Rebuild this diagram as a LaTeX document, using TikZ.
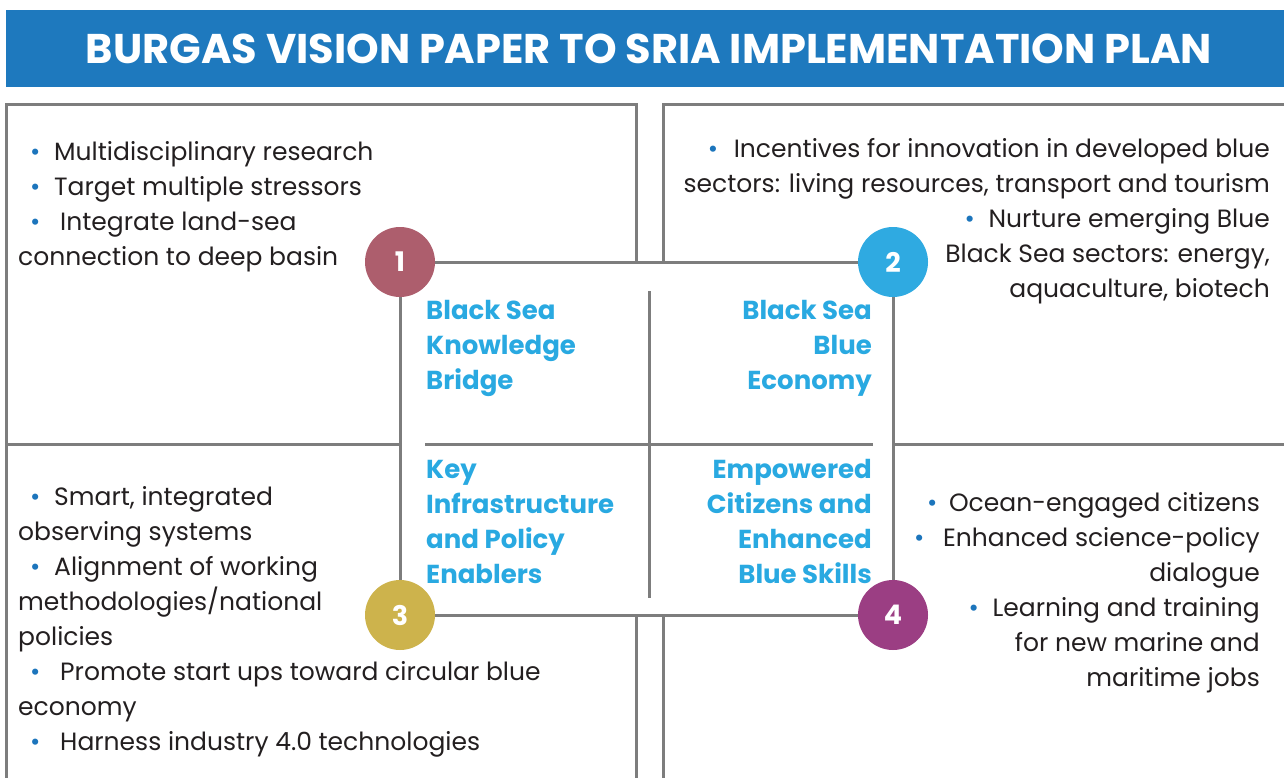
\documentclass[tikz,border=0pt]{standalone}
\usepackage{fontspec}
\setmainfont{Poppins}
\usetikzlibrary{backgrounds}
\definecolor{titleblue}{HTML}{1E79BE}
\definecolor{headblue}{HTML}{29A9E1}
\definecolor{linegrey}{HTML}{7D7D7D}
\definecolor{textdark}{HTML}{231F20}
\definecolor{bulletblue}{HTML}{1C75BC}
\definecolor{rose}{HTML}{AD5E6D}
\definecolor{sky}{HTML}{2FAAE1}
\definecolor{ochre}{HTML}{CDB34C}
\definecolor{plum}{HTML}{9B3E83}
\newcommand\bul{{\color{bulletblue}\textbullet}}
\newcommand\bpt[1]{\hspace*{12pt}\makebox[#1][l]{\bul}}
\newcommand\rpt[1]{\makebox[#1][l]{\bul}}
\tikzset{
    frame/.style={draw=linegrey,line width=3pt},
    badge/.style={circle,fill=#1,minimum size=70pt,inner sep=0pt,text=white,
        font=\bfseries\fontsize{27}{27}\selectfont},
    head/.style={text=headblue,inner sep=0pt,font=\bfseries\fontsize{26}{35}\selectfont},
    body/.style={text=textdark,inner sep=0pt,font=\fontsize{25}{35}\selectfont},
}

\begin{document}
\begin{tikzpicture}[x=1pt,y=-1pt]
    \useasboundingbox (0,0) rectangle (1284,778);
    % title bar
    \fill[titleblue] (6,10) rectangle (1284,87);
    \node[text=white,font=\bfseries\fontsize{41.5}{41.5}\selectfont] (title) at (649,49) {BURGAS VISION PAPER TO SRIA IMPLEMENTATION PLAN};
    % panel frames
    \draw[frame] (6,778) -- (6,105) -- (636,105) -- (636,262);
    \draw[frame] (663,262) -- (663,105) -- (1284,105);
    \draw[frame] (6,444) -- (400,444);
    \draw[frame] (893,444) -- (1284,444);
    \draw[frame] (636,615) -- (636,778);
    \draw[frame] (663,615) -- (663,778);
    \draw[frame] (425,444) -- (873,444);
    \draw[frame] (649,291) -- (649,598);
    % badges
    \def\badges{400/262/rose, 893/262/sky, 400/615/ochre, 893/615/plum}
    \foreach \x/\y/\c [count=\i] in \badges{
        \node[badge=\c] (b\i) at (\x,\y) {\i};
    }
    \begin{scope}[on background layer]
        \draw[frame] (b1) -- (b2) -- (b4) -- (b3) -- (b1);
    \end{scope}
    % headings (anchored at the last line)
    \node[head,anchor=base west,align=left] (h1) at (426,389) {Black Sea\\Knowledge\\Bridge};
    \node[head,anchor=base east,align=right] (h2) at (872,389) {Black Sea\\Blue\\Economy};
    \node[head,anchor=base west,align=left] (h3) at (426,583) {Key\\Infrastructure\\and Policy\\Enablers};
    \node[head,anchor=base east,align=right] (h4) at (872,583) {Empowered\\Citizens and\\Enhanced\\Blue Skills};
    % bullet lists
    \node[body,anchor=base west,align=left] (t1) at (18,265) {\bpt{24pt}Multidisciplinary research\\
        \bpt{24pt}Target multiple stressors\\
        \bpt{30pt}Integrate land-sea\\
        connection to deep basin};
    \node[body,anchor=base east,align=right] (t2) at (1270,297) {\rpt{26pt}Incentives for innovation in developed blue\\
        sectors: living resources, transport and tourism\\
        \rpt{24pt}Nurture emerging Blue\\
        Black Sea sectors: energy,\\
        aquaculture, biotech};
    \node[body,anchor=base west,align=left] (t3) at (18,750) {\bpt{24pt}Smart, integrated\\
        observing systems\\
        \bpt{24pt}Alignment of working\\
        methodologies/national\\
        policies\\
        \bpt{30pt}Promote start ups toward circular blue\\
        economy\\
        \bpt{30pt}Harness industry 4.0 technologies};
    \node[body,anchor=base east,align=right] (t4) at (1260,686) {\rpt{22pt}Ocean-engaged citizens\\
        \rpt{29pt}Enhanced science-policy\\
        dialogue\\
        \rpt{24pt}Learning and training\\
        for new marine and\\
        maritime jobs};
\end{tikzpicture}
\end{document}
